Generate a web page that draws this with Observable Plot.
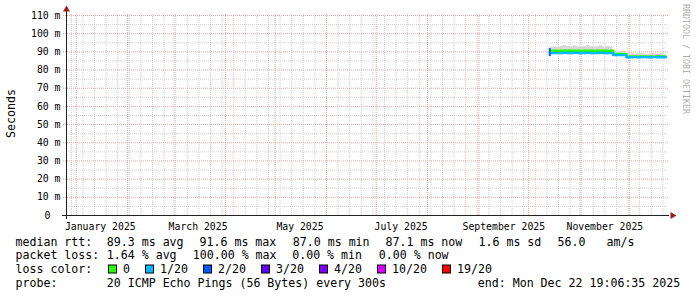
<!DOCTYPE html>
<html><head><meta charset="utf-8">
<script src="https://cdn.jsdelivr.net/npm/d3@7"></script>
<script src="https://cdn.jsdelivr.net/npm/@observablehq/plot@0.6"></script>
<style>
html,body{margin:0;padding:0;background:#fff;}
#wrap{position:relative;width:697px;height:297px;overflow:hidden;background:#fff;}
#wrap svg{display:block;}
#legend{position:absolute;left:0;top:0;}
</style></head><body><div id="wrap"></div>
<script>
// ---------------- data ----------------
const yTicks = [0, 10, 20, 30, 40, 50, 60, 70, 80, 90, 100, 110];
const yMinorTicks = [5, 15, 25, 35, 45, 55, 65, 75, 85, 95, 105];
const monthLabels = ["January 2025", "March 2025", "May 2025", "July 2025", "September 2025", "November 2025"];
const monthLabelDates = ["2025-01-15T12:00Z", "2025-03-15T12:00Z", "2025-05-16T00:00Z", "2025-07-16T00:00Z", "2025-09-16T00:00Z", "2025-11-16T00:00Z"];

const medianDates = [
  "2025-10-14", "2025-10-16", "2025-10-18", "2025-10-20", "2025-10-22", "2025-10-24", "2025-10-26", "2025-10-28", "2025-10-30",
  "2025-11-01", "2025-11-03", "2025-11-05", "2025-11-07", "2025-11-09", "2025-11-11", "2025-11-13", "2025-11-15", "2025-11-17", "2025-11-19",
  "2025-11-21", "2025-11-23", "2025-11-25", "2025-11-27",
  "2025-11-29", "2025-12-01", "2025-12-03", "2025-12-05", "2025-12-07", "2025-12-09", "2025-12-11", "2025-12-13", "2025-12-15", "2025-12-17", "2025-12-19", "2025-12-21", "2025-12-22T19:06"
];
// median rtt drawn in loss colour 0 (green) and 1/20 (light blue), ms
const medianLoss0 = [
  90.7, 90.6, 90.5, 90.6, 90.7, 90.6, 90.6, 90.7, 90.6,
  90.5, 90.6, 90.7, 90.6, 90.5, 90.6, 90.7, 90.6, 90.5, 90.6,
  88.9, 88.8, 88.9, 88.8,
  87.5, 87.4, 87.5, 87.4, 87.5, 87.5, 87.4, 87.5, 87.4, 87.5, 87.4, 87.5, 87.5
];
const medianLoss1 = [
  89.4, 89.4, 89.3, 89.4, 89.5, 89.4, 89.4, 89.5, 89.4,
  89.3, 89.4, 89.5, 89.4, 89.3, 89.4, 89.5, 89.4, 89.3, 89.4,
  88.3, 88.2, 88.3, 88.2,
  87.0, 87.0, 87.1, 87.0, 87.0, 87.1, 87.0, 87.0, 87.1, 87.0, 87.0, 87.0, 87.0
];
// smoke (spread of the 20 pings), ms
const smokeLow = [
  88.8, 88.8, 88.7, 88.8, 88.8, 88.7, 88.8, 88.8, 88.7,
  88.8, 88.8, 88.7, 88.8, 88.8, 88.7, 88.8, 88.8, 88.7, 88.8,
  87.6, 87.6, 87.6, 87.6,
  86.4, 86.4, 86.4, 86.4, 86.4, 86.4, 86.4, 86.4, 86.4, 86.4, 86.4, 86.4, 86.4
];
const smokeHigh = [
  92.6, 92.8, 92.5, 93.1, 93.4, 92.9, 92.7, 93.2, 92.8,
  92.6, 93.0, 93.5, 92.9, 92.7, 92.8, 93.3, 92.6, 92.9, 92.7,
  90.3, 90.1, 90.4, 90.2,
  88.8, 89.0, 88.7, 88.9, 89.1, 88.8, 88.7, 89.0, 88.9, 88.7, 88.9, 88.8, 88.8
];
// first sample with 2/20 loss
const spikeDates = ["2025-10-13T18:00"];
const spikeLow = [87.4];
const spikeHigh = [91.8];

const lossLabels = ["0", "1/20", "2/20", "3/20", "4/20", "10/20", "19/20"];
const lossColors = ["#26ff00", "#00b8ff", "#0059ff", "#5e00ff", "#7e00ff", "#dd00ff", "#ff0000"];

const rttRow = ["median rtt:", "89.3 ms avg", "91.6 ms max", "87.0 ms min", "87.1 ms now", "1.6 ms sd", "56.0", "am/s"];
const lossRow = ["packet loss:", "1.64 % avg", "100.00 % max", "0.00 % min", "0.00 % now"];
const probeRow = ["probe:", "20 ICMP Echo Pings (56 Bytes) every 300s", "end: Mon Dec 22 19:06:35 2025"];
const lossTitle = "loss color:";
const yTitle = "Seconds";
const watermark = "RRDTOOL / TOBI OETIKER";

// ---------------- layout ----------------
const start = new Date("2024-12-26T02:24Z");
const end = new Date("2025-12-23T04:48Z");
const plotW = 600;
const msPerPx = (end - start) / plotW;
const shift = (d, px) => new Date(+d + px * msPerPx);
const yPerPx = 110 / 200;
const FONT = "DejaVu Sans Mono";

const parse = s => new Date(s.endsWith("Z") ? s : s + (s.length === 10 ? "T00:00Z" : "Z"));
const median = medianDates.map((d, i) => ({date: parse(d), m0: medianLoss0[i], m1: medianLoss1[i], lo: smokeLow[i], hi: smokeHigh[i]}));
const spike = spikeDates.map((d, i) => ({date: parse(d), lo: spikeLow[i], hi: spikeHigh[i]}));

const weeks = d3.utcSunday.range(start, end);
const months = d3.utcMonth.range(start, end);

const majorGrid = "#e7a3a3";
const minorGrid = "#cfcfcf";
const arrowColor = "#9b1c1c";

const chart = Plot.plot({
  width: 697,
  height: 232,
  marginLeft: 66,
  marginRight: 31,
  marginTop: 15,
  marginBottom: 17,
  style: {fontFamily: FONT, fontSize: "9.8px", background: "#fff", color: "#000", overflow: "visible"},
  x: {type: "utc", domain: [start, end], axis: null},
  y: {domain: [0, 110], axis: null},
  marks: [
    // minor grid
    Plot.ruleX(weeks, {x: d => d, y1: 0, y2: 110 + 2 * yPerPx, stroke: minorGrid, strokeDasharray: "1,1"}),
    Plot.ruleY(yMinorTicks, {y: d => d, x1: start, x2: shift(end, 2), stroke: minorGrid, strokeDasharray: "1,1"}),
    // major grid
    Plot.ruleX(months, {x: d => d, y1: 0, y2: 110 + 2 * yPerPx, stroke: majorGrid, strokeDasharray: "1,1"}),
    Plot.ruleY(yTicks.filter(d => d > 0), {y: d => d, x1: shift(start, -3), x2: shift(end, 2), stroke: majorGrid, strokeDasharray: "1,1"}),
    // smoke
    Plot.areaY(median, {x: "date", y1: "lo", y2: "hi", curve: "step-after", fill: "#d6d6d6"}),
    // median lines coloured by loss
    Plot.lineY(median, {x: "date", y: "m0", curve: "step-after", stroke: lossColors[0], strokeWidth: 2.4}),
    Plot.lineY(median, {x: "date", y: "m1", curve: "step-after", stroke: lossColors[1], strokeWidth: 2.4}),
    Plot.ruleX(spike, {x: "date", y1: "lo", y2: "hi", stroke: lossColors[2], strokeWidth: 2}),
    // axes
    Plot.ruleY([0], {x1: shift(start, -4), x2: shift(end, 3), stroke: "#222"}),
    Plot.ruleX([start], {y1: -4 * yPerPx, y2: 110 + 4 * yPerPx, stroke: "#222"}),
    Plot.dot([110 + 6 * yPerPx], {x: () => start, y: d => d, symbol: "triangle", r: 2.6, fill: arrowColor, stroke: "none"}),
    Plot.dot([0], {x: () => shift(end, 6), y: d => d, symbol: "triangle", r: 2.6, rotate: 90, fill: arrowColor, stroke: "none"}),
    // y tick labels
    Plot.text(yTicks.filter(d => d > 0), {frameAnchor: "left", y: d => d, text: d => `${d} m`, textAnchor: "end", dx: -6, fill: "#000"}),
    Plot.text(yTicks.filter(d => d === 0), {frameAnchor: "left", y: d => d, text: d => String(d), textAnchor: "end", dx: -16, fill: "#000"}),
    // x labels
    Plot.text(monthLabelDates, {x: d => new Date(d), frameAnchor: "bottom", text: (d, i) => monthLabels[i], lineAnchor: "middle", dy: 11.5, fill: "#000"})
  ]
});
document.getElementById("wrap").appendChild(chart);

// ---------------- titles and legend ----------------
const lg = d3.select("#wrap").append("svg").attr("id", "legend")
  .attr("width", 697).attr("height", 297)
  .style("font-family", FONT).style("font-size", "11.6px");

lg.append("text").attr("transform", "translate(10.5,113.5) rotate(-90)")
  .attr("text-anchor", "middle").attr("dominant-baseline", "central").attr("fill", "#000").text(yTitle);
lg.append("text").attr("transform", "translate(686,59) rotate(90)")
  .attr("text-anchor", "middle").attr("dominant-baseline", "central")
  .style("font-size", "8.3px").attr("fill", "#b0b0b0").text(watermark);

const rowY = [245.7, 259.3, 273.2, 287];
const put = (x, y, t) => lg.append("text").attr("x", x).attr("y", y).attr("fill", "#000").style("white-space", "pre").text(t);

const rttX = [15.5, 106.8, 199.5, 292.8, 385.5, 478.5, 557.5, 606.5];
rttRow.forEach((t, i) => put(rttX[i], rowY[0], t));
const lossX = [15.5, 106.8, 192.8, 292.2, 378.8];
lossRow.forEach((t, i) => put(lossX[i], rowY[1], t));
put(15.5, rowY[2], lossTitle);
const boxX = [108.5, 145.5, 203.5, 261.5, 319.5, 377.5, 442.5];
lossLabels.forEach((t, i) => {
  lg.append("rect").attr("x", boxX[i]).attr("y", rowY[2] - 8.2).attr("width", 8).attr("height", 8)
    .attr("fill", lossColors[i]).attr("stroke", "#000").attr("stroke-width", 1);
  put(boxX[i] + 14.5, rowY[2], t);
});
const probeX = [15.5, 106.8, 477.8];
probeRow.forEach((t, i) => put(probeX[i], rowY[3], t));
</script></body></html>
